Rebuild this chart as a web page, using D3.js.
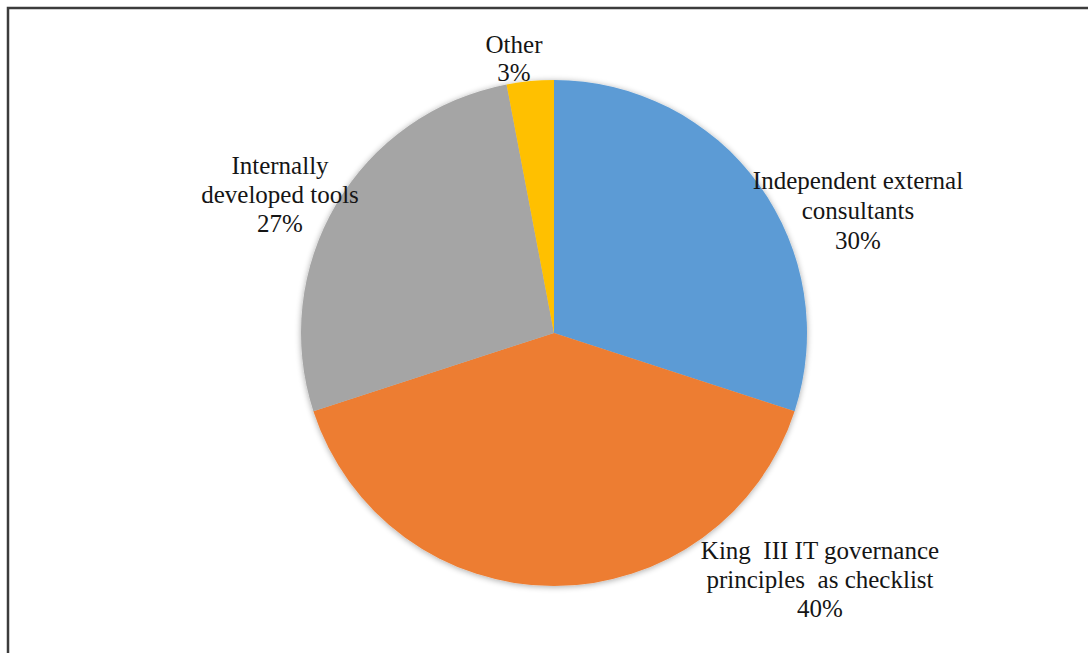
<!DOCTYPE html>
<html>
<head>
<meta charset="utf-8">
<script src="https://cdn.jsdelivr.net/npm/d3@7"></script>
<style>
  html, body { margin: 0; padding: 0; background: #fff; }
  svg { display: block; }
  .lbl { white-space: pre; }
</style>
</head>
<body>
<svg id="chart" width="1088" height="653"></svg>
<script>
// Assessment methods used for IT governance
const categories = [
  "Independent external consultants",
  "King III IT governance principles as checklist",
  "Internally developed tools",
  "Other"
];
const values = [30, 40, 27, 3];
const colors = ["#5B9BD5", "#ED7D31", "#A5A5A5", "#FFC000"];
const labelLines = [
  ["Independent external", "consultants"],
  ["King  III IT governance", "principles  as checklist"],
  ["Internally", "developed tools"],
  ["Other"]
];

const cx = 554, cy = 333, R = 253;
const serif = "'Liberation Serif', 'Times New Roman', 'DejaVu Serif', serif";

const svg = d3.select("#chart");

// Frame around the chart area
svg.append("rect")
  .attr("x", 8).attr("y", 8)
  .attr("width", 1200).attr("height", 800)
  .attr("fill", "none")
  .attr("stroke", "#3c3c3c")
  .attr("stroke-width", 2.5);

// Soft shadow under the pie
const defs = svg.append("defs");
const f = defs.append("filter").attr("id", "soft").attr("x", "-10%").attr("y", "-10%").attr("width", "120%").attr("height", "120%");
f.append("feGaussianBlur").attr("in", "SourceAlpha").attr("stdDeviation", 3).attr("result", "b");
f.append("feOffset").attr("in", "b").attr("dx", 0).attr("dy", 1).attr("result", "o");
f.append("feComponentTransfer").attr("in", "o").attr("result", "s")
  .append("feFuncA").attr("type", "linear").attr("slope", 0.35);
const m = f.append("feMerge");
m.append("feMergeNode").attr("in", "s");
m.append("feMergeNode").attr("in", "SourceGraphic");

const pie = d3.pie().sort(null).value(d => d)(values);
const arc = d3.arc().innerRadius(0).outerRadius(R);

const g = svg.append("g").attr("transform", `translate(${cx},${cy})`);
g.append("g").attr("filter", "url(#soft)")
  .selectAll("path")
  .data(pie)
  .join("path")
  .attr("d", arc)
  .attr("fill", (d, i) => colors[i]);

// Label anchors (centre of each text block, page coordinates)
const labelAnchor = [[858, 211], [820, 580], [280, 195], [514, 59]];
const lineGap = [30, 29, 29, 28];
const fontSize = 25;

pie.forEach((d, i) => {
  const lines = labelLines[i].concat([values[i] + "%"]);
  const x = labelAnchor[i][0] - cx, y = labelAnchor[i][1] - cy;
  const n = lines.length;
  const t = g.append("text")
    .attr("class", "lbl")
    .attr("text-anchor", "middle")
    .attr("font-family", serif)
    .attr("font-size", fontSize)
    .attr("fill", "#151515");
  lines.forEach((ln, k) => {
    t.append("tspan")
      .attr("x", x)
      .attr("y", y + (k - (n - 1) / 2) * lineGap[i] + 8)
      .text(ln);
  });
});
</script>
</body>
</html>
